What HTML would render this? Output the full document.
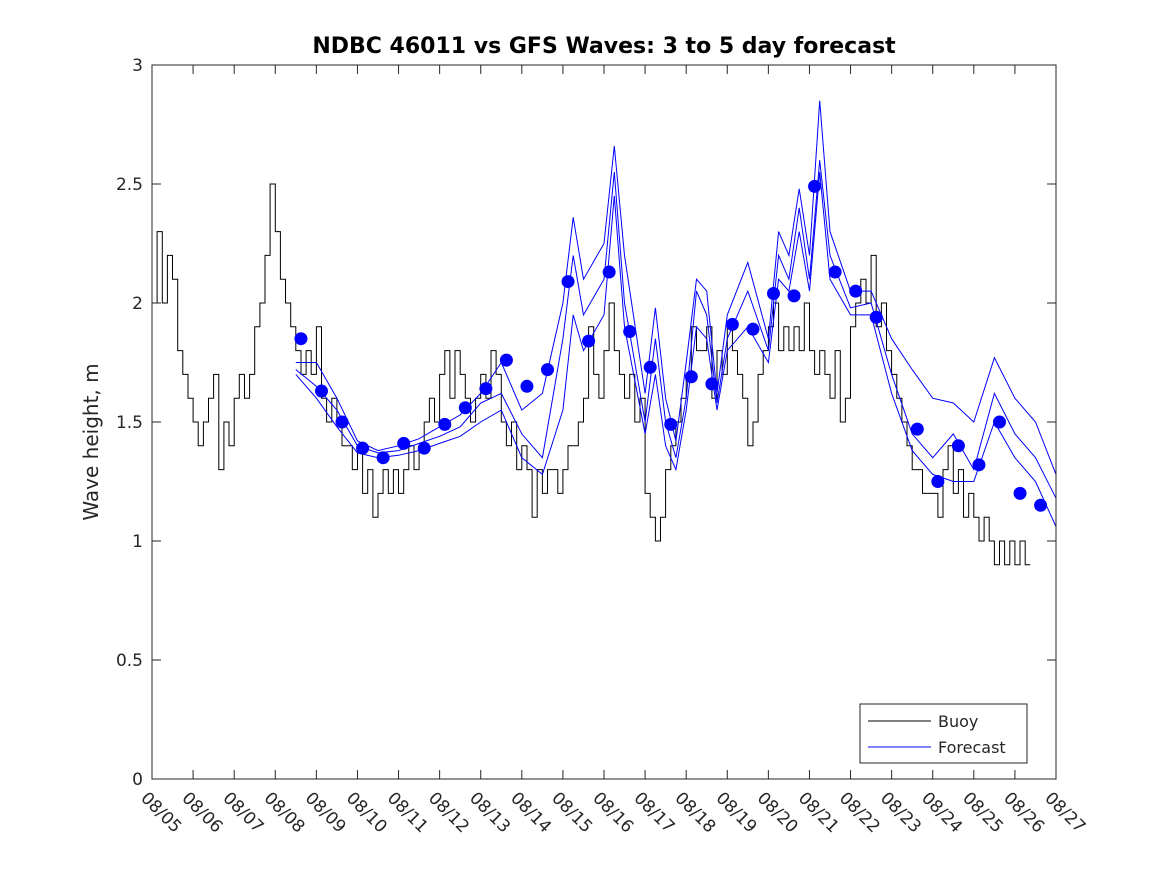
<!DOCTYPE html>
<html><head><meta charset="utf-8"><style>
body{margin:0;background:#fff;}
svg text{font-family:"DejaVu Sans","Liberation Sans",sans-serif;fill:#262626;}
</style></head><body>
<svg id="chart" width="1167" height="875" xmlns="http://www.w3.org/2000/svg">
<rect x="0" y="0" width="1167" height="875" fill="#fff"/>
<text x="604" y="53" text-anchor="middle" font-size="22" font-weight="bold" style="fill:#000">NDBC 46011 vs GFS Waves: 3 to 5 day forecast</text>
<text transform="translate(98,442) rotate(-90)" text-anchor="middle" font-size="20">Wave height, m</text>
<g id="marks"></g>
<rect x="152" y="65" width="904" height="714" fill="none" stroke="#262626" stroke-width="1"/>
<g id="axes"></g>
<g>
<rect x="860" y="704" width="167" height="59" fill="#fff" stroke="#262626"/>
<line x1="868" y1="721" x2="931" y2="721" stroke="#000"/>
<text x="938" y="727" font-size="16">Buoy</text>
<line x1="868" y1="747" x2="931" y2="747" stroke="#0000ff"/>
<text x="938" y="753" font-size="16">Forecast</text>
</g>
</svg>
<script>
const xTickLabels=["08/05","08/06","08/07","08/08","08/09","08/10","08/11","08/12","08/13","08/14","08/15","08/16","08/17","08/18","08/19","08/20","08/21","08/22","08/23","08/24","08/25","08/26","08/27"];
const yTickValues=[0,0.5,1,1.5,2,2.5,3];
const yTickLabels=["0","0.5","1","1.5","2","2.5","3"];
const buoyStartDay=0, buoyStep=0.125;
const buoyValues=[2.0,2.3,2.0,2.2,2.1,1.8,1.7,1.6,
1.5,1.4,1.5,1.6,1.7,1.3,1.5,1.4,
1.6,1.7,1.6,1.7,1.9,2.0,2.2,2.5,
2.3,2.1,2.0,1.9,1.8,1.7,1.8,1.7,
1.9,1.6,1.5,1.6,1.5,1.4,1.4,1.3,
1.4,1.2,1.3,1.1,1.2,1.3,1.2,1.3,
1.2,1.3,1.4,1.3,1.4,1.5,1.6,1.5,
1.7,1.8,1.6,1.8,1.7,1.6,1.5,1.6,
1.7,1.6,1.8,1.7,1.5,1.4,1.5,1.3,
1.4,1.3,1.1,1.3,1.2,1.3,1.3,1.2,
1.3,1.4,1.4,1.5,1.6,1.9,1.7,1.6,
1.8,2.0,1.8,1.7,1.6,1.7,1.5,1.6,
1.2,1.1,1.0,1.1,1.3,1.4,1.5,1.6,
1.7,1.9,1.8,1.8,1.9,1.6,1.8,1.7,
1.9,1.8,1.7,1.6,1.4,1.5,1.7,1.8,
1.9,2.0,1.8,1.9,1.8,1.9,1.8,2.0,
1.8,1.7,1.8,1.7,1.6,1.8,1.5,1.6,
1.9,2.0,2.1,2.0,2.2,1.9,2.0,1.8,
1.7,1.6,1.5,1.4,1.3,1.3,1.2,1.2,
1.2,1.1,1.3,1.4,1.2,1.3,1.1,1.2,
1.1,1.0,1.1,1.0,0.9,1.0,0.9,1.0,
0.9,1.0,0.9];
const fcDays=[3.5,4,4.5,5,5.5,6,6.5,7,7.5,8,8.5,9,9.5,10,10.25,10.5,11,11.25,11.5,12,12.25,12.5,12.75,13,13.25,13.5,13.75,14,14.5,15,15.25,15.5,15.75,16,16.25,16.5,17,17.5,18,18.5,19,19.5,20,20.5,21,21.5,22];
const fcUpper=[1.75,1.75,1.6,1.42,1.38,1.4,1.43,1.48,1.53,1.62,1.75,1.55,1.62,2.0,2.36,2.1,2.25,2.66,2.2,1.62,1.98,1.6,1.42,1.75,2.1,2.05,1.62,1.95,2.17,1.85,2.3,2.2,2.48,2.2,2.85,2.3,2.05,2.05,1.85,1.72,1.6,1.58,1.5,1.77,1.6,1.5,1.28];
const fcMid=[1.72,1.65,1.55,1.4,1.37,1.38,1.41,1.44,1.48,1.58,1.62,1.45,1.35,1.85,2.2,1.95,2.1,2.55,2.0,1.5,1.85,1.5,1.35,1.6,2.05,1.95,1.58,1.85,2.05,1.8,2.2,2.1,2.4,2.1,2.6,2.2,1.98,2.0,1.7,1.45,1.35,1.45,1.3,1.62,1.45,1.35,1.18];
const fcLower=[1.7,1.6,1.48,1.37,1.35,1.36,1.38,1.41,1.44,1.5,1.55,1.35,1.28,1.55,1.95,1.8,1.95,2.45,1.9,1.45,1.7,1.4,1.3,1.55,1.9,1.85,1.55,1.8,1.9,1.75,2.1,2.05,2.3,2.05,2.55,2.1,1.95,1.95,1.62,1.38,1.28,1.25,1.25,1.5,1.35,1.25,1.06];
const dotDays=[3.625,4.125,4.625,5.125,5.625,6.125,6.625,7.125,7.625,8.125,8.625,9.125,9.625,10.125,10.625,11.125,11.625,12.125,12.625,13.125,13.625,14.125,14.625,15.125,15.625,16.125,16.625,17.125,17.625,18.625,19.125,19.625,20.125,20.625,21.125,21.625];
const dotValues=[1.85,1.63,1.50,1.39,1.35,1.41,1.39,1.49,1.56,1.64,1.76,1.65,1.72,2.09,1.84,2.13,1.88,1.73,1.49,1.69,1.66,1.91,1.89,2.04,2.03,2.49,2.13,2.05,1.94,1.47,1.25,1.40,1.32,1.50,1.20,1.15];

const X0=152,X1=1056,Y0=779,Y1=65,DAYS=22,YMAX=3;
function xs(d){return X0+(X1-X0)*d/DAYS;}
function ys(v){return Y0-(Y0-Y1)*v/YMAX;}
const NS="http://www.w3.org/2000/svg";
const marks=document.getElementById('marks'),axes=document.getElementById('axes');
function mk(tag,attrs,parent){const e=document.createElementNS(NS,tag);for(const k in attrs)e.setAttribute(k,attrs[k]);parent.appendChild(e);return e;}

xTickLabels.forEach((lab,i)=>{
  const x=xs(i);
  const t1=mk('line',{x1:x,y1:Y0,x2:x,y2:Y0-9,stroke:'#262626'},axes);
  
  
  const t2=mk('line',{x1:x,y1:Y1,x2:x,y2:Y1+9,stroke:'#262626'},axes);
  
  
  const tx=mk('text',{transform:`translate(${x-12},${Y0+20}) rotate(45)`,'font-size':'17'},axes);
  tx.textContent=lab;
  
  
});
yTickValues.forEach((v,i)=>{
  const y=ys(v);
  const t1=mk('line',{x1:X0,y1:y,x2:X0+9,y2:y,stroke:'#262626'},axes);
  
  
  const t2=mk('line',{x1:X1,y1:y,x2:X1-9,y2:y,stroke:'#262626'},axes);
  
  
  const tx=mk('text',{x:X0-9,y:y+6,'text-anchor':'end','font-size':'17'},axes);
  tx.textContent=yTickLabels[i];
  
  
});

let d='';
buoyValues.forEach((v,i)=>{
  const xa=xs(buoyStartDay+i*buoyStep),xb=xs(buoyStartDay+(i+1)*buoyStep),y=ys(v);
  d+=(i===0?'M':'L')+xa.toFixed(1)+' '+y.toFixed(1)+' L'+xb.toFixed(1)+' '+y.toFixed(1)+' ';
});
const bl=mk('path',{d:d,fill:'none',stroke:'#000','stroke-width':'1'},marks);



[['forecast-upper',fcUpper],['forecast-mid',fcMid],['forecast-lower',fcLower]].forEach(([nm,arr])=>{
  let p='';
  arr.forEach((v,i)=>{p+=(i===0?'M':'L')+xs(fcDays[i]).toFixed(1)+' '+ys(v).toFixed(1)+' ';});
  const l=mk('path',{d:p,fill:'none',stroke:'#0000ff','stroke-width':'1'},marks);
  
  
});

dotDays.forEach((dd,i)=>{
  const c=mk('circle',{cx:xs(dd),cy:ys(dotValues[i]),r:6.5,fill:'#0000ff'},marks);
  
  
});
</script>
</body></html>
